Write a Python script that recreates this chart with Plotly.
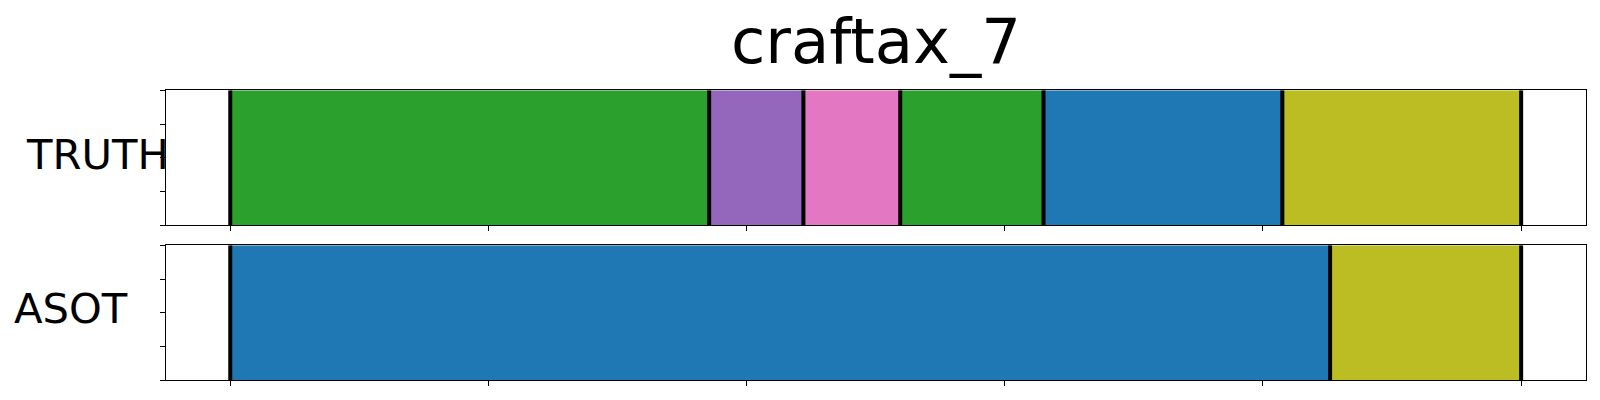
import plotly.graph_objects as go

# ---- data ----
title = "craftax_7"
row_labels = ["TRUTH", "ASOT"]
total_len = 1000
truth_bounds = [0, 371, 444, 519, 630, 815, 1000]
truth_colors = ["#2ca02c", "#9467bd", "#e377c2", "#2ca02c", "#1f77b4", "#bcbd22"]
asot_bounds = [0, 852, 1000]
asot_colors = ["#1f77b4", "#bcbd22"]
x_ticks = [0, 200, 400, 600, 800, 1000]
y_ticks = [0, 0.25, 0.5, 0.75, 1.0]

W, H = 1600, 400
def px_x(p): return p / W
def px_y(p): return 1 - p / H

fig = go.Figure()

rows = [(truth_bounds, truth_colors, "x", "y"), (asot_bounds, asot_colors, "x2", "y2")]
for bounds, colors, xa, ya in rows:
    for i, c in enumerate(colors):
        fig.add_trace(go.Bar(
            orientation="h", y=[0.5], x=[bounds[i + 1] - bounds[i]], base=[bounds[i]],
            width=[1.0], marker=dict(color=c, line=dict(width=0)),
            xaxis=xa, yaxis=ya, showlegend=False, hoverinfo="skip"))
    for b in bounds:
        fig.add_trace(go.Scatter(
            x=[b, b], y=[0, 1], mode="lines", line=dict(color="black", width=4),
            xaxis=xa, yaxis=ya, showlegend=False, hoverinfo="skip"))

xd = [px_x(165.7), px_x(1585.7)]
xrange_ = [-0.05 * total_len, 1.05 * total_len]
axis_common = dict(showline=True, linecolor="black", linewidth=1.3, mirror=True,
                   ticks="outside", ticklen=5, tickwidth=1.2, tickcolor="black",
                   showticklabels=False, showgrid=False, zeroline=False)
fig.update_layout(
    width=W, height=H, margin=dict(l=0, r=0, t=0, b=0),
    paper_bgcolor="white", plot_bgcolor="white", barmode="overlay",
    xaxis=dict(domain=xd, range=xrange_, tickvals=x_ticks, anchor="y", **axis_common),
    yaxis=dict(domain=[px_y(225.3), px_y(90.3)], range=[0, 1], tickvals=y_ticks, anchor="x", **axis_common),
    xaxis2=dict(domain=xd, range=xrange_, tickvals=x_ticks, anchor="y2", **axis_common),
    yaxis2=dict(domain=[px_y(380.3), px_y(245.3)], range=[0, 1], tickvals=y_ticks, anchor="x2", **axis_common),
)

font_lbl = dict(family="DejaVu Sans", size=41.7, color="black")
fig.add_annotation(text=row_labels[0], x=px_x(171), y=px_y(155), xref="paper", yref="paper",
                   xanchor="right", yanchor="middle", showarrow=False, font=font_lbl)
fig.add_annotation(text=row_labels[1], x=px_x(12), y=px_y(308), xref="paper", yref="paper",
                   xanchor="left", yanchor="middle", showarrow=False, font=font_lbl)
fig.add_annotation(text=title, x=px_x(875.7), y=px_y(42), xref="paper", yref="paper",
                   xanchor="center", yanchor="middle", showarrow=False,
                   font=dict(family="DejaVu Sans", size=62.5, color="black"))

fig.write_html("out.html", config={"displayModeBar": False},
               post_script="document.body.style.margin='0';document.body.style.overflow='hidden';")
